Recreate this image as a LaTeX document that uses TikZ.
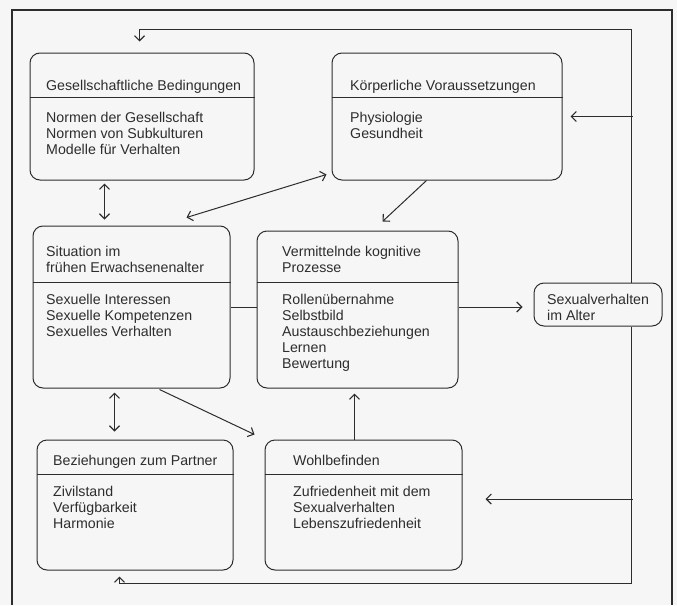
\documentclass[tikz,border=0pt]{standalone}
\usepackage{fontspec}
\setmainfont{Liberation Sans}
\usetikzlibrary{arrows.meta,calc}
\definecolor{ink}{RGB}{45,45,45}
\definecolor{paper}{RGB}{246,246,246}
\newcommand\textlines[4]{\foreach \t [count=\i] in {#4} {\node[txt] (#1-\i) at (#2,#3+16*\i-16) {\t};}}
\begin{document}
\begin{tikzpicture}[x=1pt,y=-1pt,
  box/.style={draw=ink,line width=1pt,rounded corners=10pt,inner sep=0pt},
  txt/.style={anchor=base west,inner sep=0pt,font=\fontsize{14.2}{16}\selectfont,text=ink},
  tip/.tip={Straight Barb[length=5pt,width=10pt,line width=1.1pt]},
  arr/.style={draw=ink,line width=1pt,-tip},
  dbl/.style={draw=ink,line width=1pt,tip-tip},
  ln/.style={draw=ink,line width=1pt}]
\fill[paper] (0,0) rectangle (677,605);
\useasboundingbox (0,0) rectangle (677,605);
% outer frame
\draw[ink,line width=1.4pt] (12,605) -- (12,10) -- (672,10) -- (672,605);

% boxes
\node[box,minimum width=224pt,minimum height=127pt] (ges) at (142,116.5) {};
\node[box,minimum width=230pt,minimum height=127pt] (koe) at (447,116.5) {};
\node[box,minimum width=197pt,minimum height=162pt] (sit) at (131.5,307) {};
\node[box,minimum width=201pt,minimum height=157pt] (ver) at (357.5,309.5) {};
\node[box,minimum width=128pt,minimum height=43pt] (sex) at (598,304.5) {};
\node[box,minimum width=196pt,minimum height=130pt] (bez) at (135,505) {};
\node[box,minimum width=197pt,minimum height=130pt] (woh) at (363.5,505) {};

% dividers
\draw[ln] (ges.west |- 0,97) -- (ges.east |- 0,97);
\draw[ln] (koe.west |- 0,97) -- (koe.east |- 0,97);
\draw[ln] (sit.west |- 0,282) -- (sit.east |- 0,282);
\draw[ln] (ver.west |- 0,282) -- (ver.east |- 0,282);
\draw[ln] (bez.west |- 0,474) -- (bez.east |- 0,474);
\draw[ln] (woh.west |- 0,474) -- (woh.east |- 0,474);

% texts
\textlines{gt}{46}{90}{Gesellschaftliche Bedingungen}
\textlines{gb}{46}{122}{Normen der Gesellschaft,Normen von Subkulturen,Modelle für Verhalten}
\textlines{kt}{350}{90}{Körperliche Voraussetzungen}
\textlines{kb}{350}{122}{Physiologie,Gesundheit}
\textlines{st}{46}{256}{Situation im,frühen Erwachsenenalter}
\textlines{sb}{46}{304}{Sexuelle Interessen,Sexuelle Kompetenzen,Sexuelles Verhalten}
\textlines{vt}{282}{256}{Vermittelnde kognitive,Prozesse}
\textlines{vb}{282}{304}{Rollenübernahme,Selbstbild,Austauschbeziehungen,Lernen,Bewertung}
\textlines{xt}{547}{304}{Sexualverhalten,im Alter}
\textlines{bt}{53}{465}{Beziehungen zum Partner}
\textlines{bb}{53}{496}{Zivilstand,Verfügbarkeit,Harmonie}
\textlines{wt}{293}{465}{Wohlbefinden}
\textlines{wb}{293}{496}{Zufriedenheit mit dem,Sexualverhalten,Lebenszufriedenheit}

% connectors
\draw[dbl] ([shift={(75,3)}]ges.south west) -- ([shift={(72,-6)}]sit.north west);
\draw[dbl] ([shift={(-5,-6)}]koe.south west) -- ([shift={(154,-8)}]sit.north west);
\draw[arr] ([shift={(95,0)}]koe.south west) -- ([shift={(126,-9)}]ver.north west);
\draw[ln] (sit.east) -- (ver.west |- sit.east);
\draw[arr] (ver.east |- sit.east) -- ([xshift=-11]sex.west |- sit.east);
\draw[dbl] ([shift={(82,4)}]sit.south west) -- ([shift={(78,-8)}]bez.north west);
\draw[arr] ([shift={(127,1)}]sit.south west) -- ([shift={(-10,-5)}]woh.north west);
\draw[arr] ([shift={(90,0)}]woh.north west) -- ([shift={(98,5)}]ver.south west);

% feedback loops
\draw[arr] ([xshift=98]sex.north west) |- ([shift={(110,-23)}]ges.north west) -- ([shift={(110,-11)}]ges.north west);
\draw[arr] ([xshift=70]koe.east) -- ([xshift=8]koe.east);
\draw[arr] ([xshift=98]sex.south west) |- ([shift={(83,13)}]bez.south west) -- ([shift={(83,6)}]bez.south west);
\draw[arr] ([shift={(170,-6)}]woh.east) -- ([shift={(23,-6)}]woh.east);
\end{tikzpicture}
\end{document}
